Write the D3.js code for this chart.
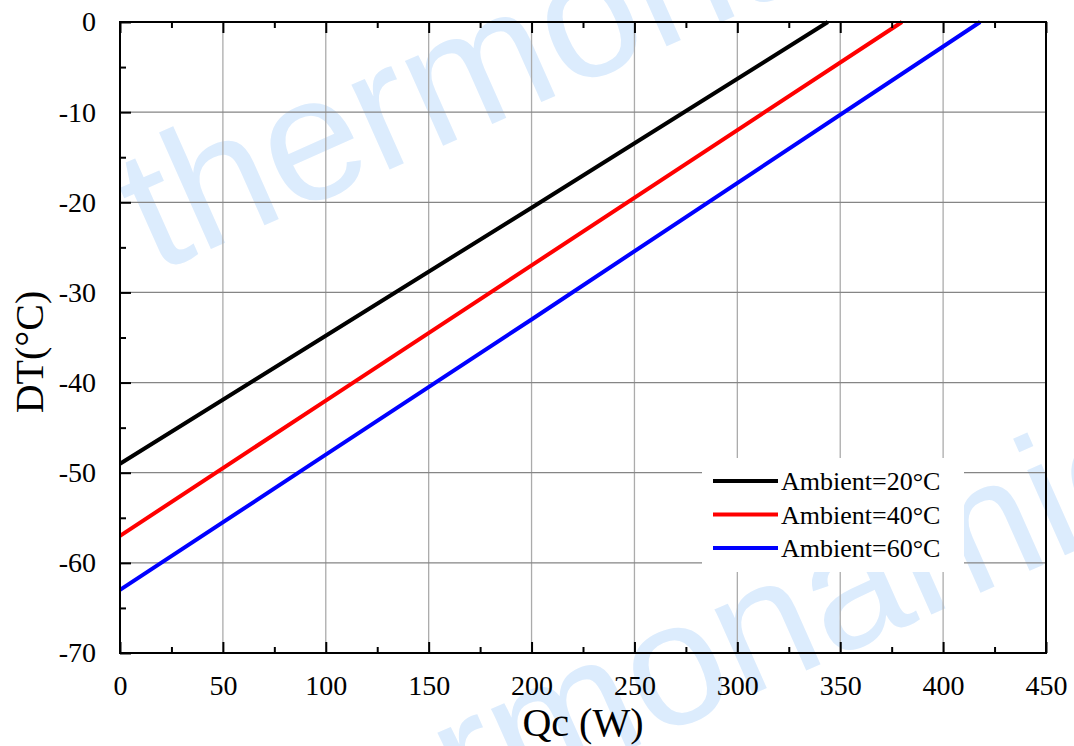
<!DOCTYPE html>
<html>
<head>
<meta charset="utf-8">
<script src="https://cdn.jsdelivr.net/npm/d3@7"></script>
<style>
  body { margin: 0; background: #fff; }
  svg { display: block; }
</style>
</head>
<body>
<svg width="1074" height="746"></svg>
<script>
// Qc (W) vs DT (°C), one line per ambient temperature
var qc20 = [0, 100, 200, 344]
var dt20 = [-49, -34.8, -20.6, 0]
var qc40 = [0, 100, 200, 380]
var dt40 = [-57, -42, -27, 0]
var qc60 = [0, 100, 200, 418]
var dt60 = [-63, -48, -33, 0]
var seriesNames = ['Ambient=20°C', 'Ambient=40°C', 'Ambient=60°C']
var seriesColors = ['#000000', '#ff0000', '#0000ff']
var xTicks = [0, 50, 100, 150, 200, 250, 300, 350, 400, 450]
var yTicks = [0, -10, -20, -30, -40, -50, -60, -70]

var series = [
    { name: seriesNames[0], color: seriesColors[0], pts: qc20.map((q, i) => [q, dt20[i]]) },
    { name: seriesNames[1], color: seriesColors[1], pts: qc40.map((q, i) => [q, dt40[i]]) },
    { name: seriesNames[2], color: seriesColors[2], pts: qc60.map((q, i) => [q, dt60[i]]) }
]

var svg = d3.select('svg')
var L = 120, R = 1046, T = 22, B = 653
var serif = '"Liberation Serif", "Times New Roman", serif'

var x = d3.scaleLinear().domain([0, 450]).range([L, R])
var y = d3.scaleLinear().domain([-70, 0]).range([B, T])

// watermark
var wm = svg.append('g')
    .style('font-family', '"Liberation Sans", Arial, sans-serif')
    .style('font-size', '176px')
    .style('fill', '#dcecfd')
wm.append('text')
    .attr('transform', 'translate(155,274) rotate(-24)')
    .text('thermonamic')
wm.append('text')
    .attr('transform', 'translate(241,922) rotate(-24)')
    .text('thermonamic')

// grid
svg.append('g')
    .selectAll('line')
    .data(xTicks.slice(1, -1))
    .enter()
    .append('line')
    .attr('x1', d => x(d)).attr('x2', d => x(d))
    .attr('y1', T).attr('y2', B)
    .attr('stroke', '#ababab')
    .attr('stroke-width', 1.3)

svg.append('g')
    .selectAll('line')
    .data(yTicks.slice(1, -1))
    .enter()
    .append('line')
    .attr('x1', L).attr('x2', R)
    .attr('y1', d => y(d)).attr('y2', d => y(d))
    .attr('stroke', '#858585')
    .attr('stroke-width', 1.3)

// data lines
var line = d3.line().x(d => x(d[0])).y(d => y(d[1]))
svg.append('g')
    .selectAll('path')
    .data(series)
    .enter()
    .append('path')
    .attr('d', d => line(d.pts))
    .attr('fill', 'none')
    .attr('stroke', d => d.color)
    .attr('stroke-width', 4)

// axes (ticks inward)
function styleAxis(g) {
    g.select('.domain').remove()
    g.selectAll('.tick line').attr('stroke', '#000').attr('stroke-width', 2)
    g.selectAll('.tick text')
        .style('font-family', serif)
        .style('font-size', '28px')
        .attr('fill', '#000')
}

var xMinor = d3.range(25, 450, 50)
var yMinor = d3.range(-65, 0, 10)
var plain = d => String(d)

svg.append('g')
    .attr('transform', 'translate(0,' + B + ')')
    .call(d3.axisBottom(x).tickValues(xTicks).tickSize(-11).tickPadding(22).tickFormat(plain))
    .call(styleAxis)
svg.append('g')
    .attr('transform', 'translate(0,' + B + ')')
    .call(d3.axisBottom(x).tickValues(xMinor).tickSize(-6).tickFormat(''))
    .call(styleAxis)

svg.append('g')
    .attr('transform', 'translate(0,' + T + ')')
    .call(d3.axisTop(x).tickValues(xTicks).tickSize(-11).tickFormat(''))
    .call(styleAxis)
svg.append('g')
    .attr('transform', 'translate(0,' + T + ')')
    .call(d3.axisTop(x).tickValues(xMinor).tickSize(-6).tickFormat(''))
    .call(styleAxis)

svg.append('g')
    .attr('transform', 'translate(' + L + ',0)')
    .call(d3.axisLeft(y).tickValues(yTicks).tickSize(-11).tickPadding(24).tickFormat(plain))
    .call(styleAxis)
svg.append('g')
    .attr('transform', 'translate(' + L + ',0)')
    .call(d3.axisLeft(y).tickValues(yMinor).tickSize(-6).tickFormat(''))
    .call(styleAxis)

// frame
svg.append('rect')
    .attr('x', L).attr('y', T)
    .attr('width', R - L).attr('height', B - T)
    .attr('fill', 'none')
    .attr('stroke', '#000')
    .attr('stroke-width', 2)

// legend
var lg = svg.append('g')
lg.append('rect')
    .attr('x', 702).attr('y', 458)
    .attr('width', 262).attr('height', 114)
    .attr('fill', '#fff')
var rows = lg.selectAll('g.row')
    .data(series)
    .enter()
    .append('g')
    .attr('transform', (d, i) => 'translate(0,' + (481 + i * 33.5) + ')')
rows.append('line')
    .attr('x1', 713).attr('x2', 778)
    .attr('stroke', d => d.color)
    .attr('stroke-width', 4)
rows.append('text')
    .attr('x', 781)
    .attr('y', 9)
    .style('font-family', serif)
    .style('font-size', '26px')
    .text(d => d.name)

// axis titles
svg.append('text')
    .attr('transform', 'translate(43,352) rotate(-90)')
    .attr('text-anchor', 'middle')
    .style('font-family', serif)
    .style('font-size', '40px')
    .text('DT(°C)')

svg.append('text')
    .attr('x', (L + R) / 2)
    .attr('y', 736)
    .attr('text-anchor', 'middle')
    .style('font-family', serif)
    .style('font-size', '40px')
    .text('Qc (W)')
</script>
</body>
</html>
